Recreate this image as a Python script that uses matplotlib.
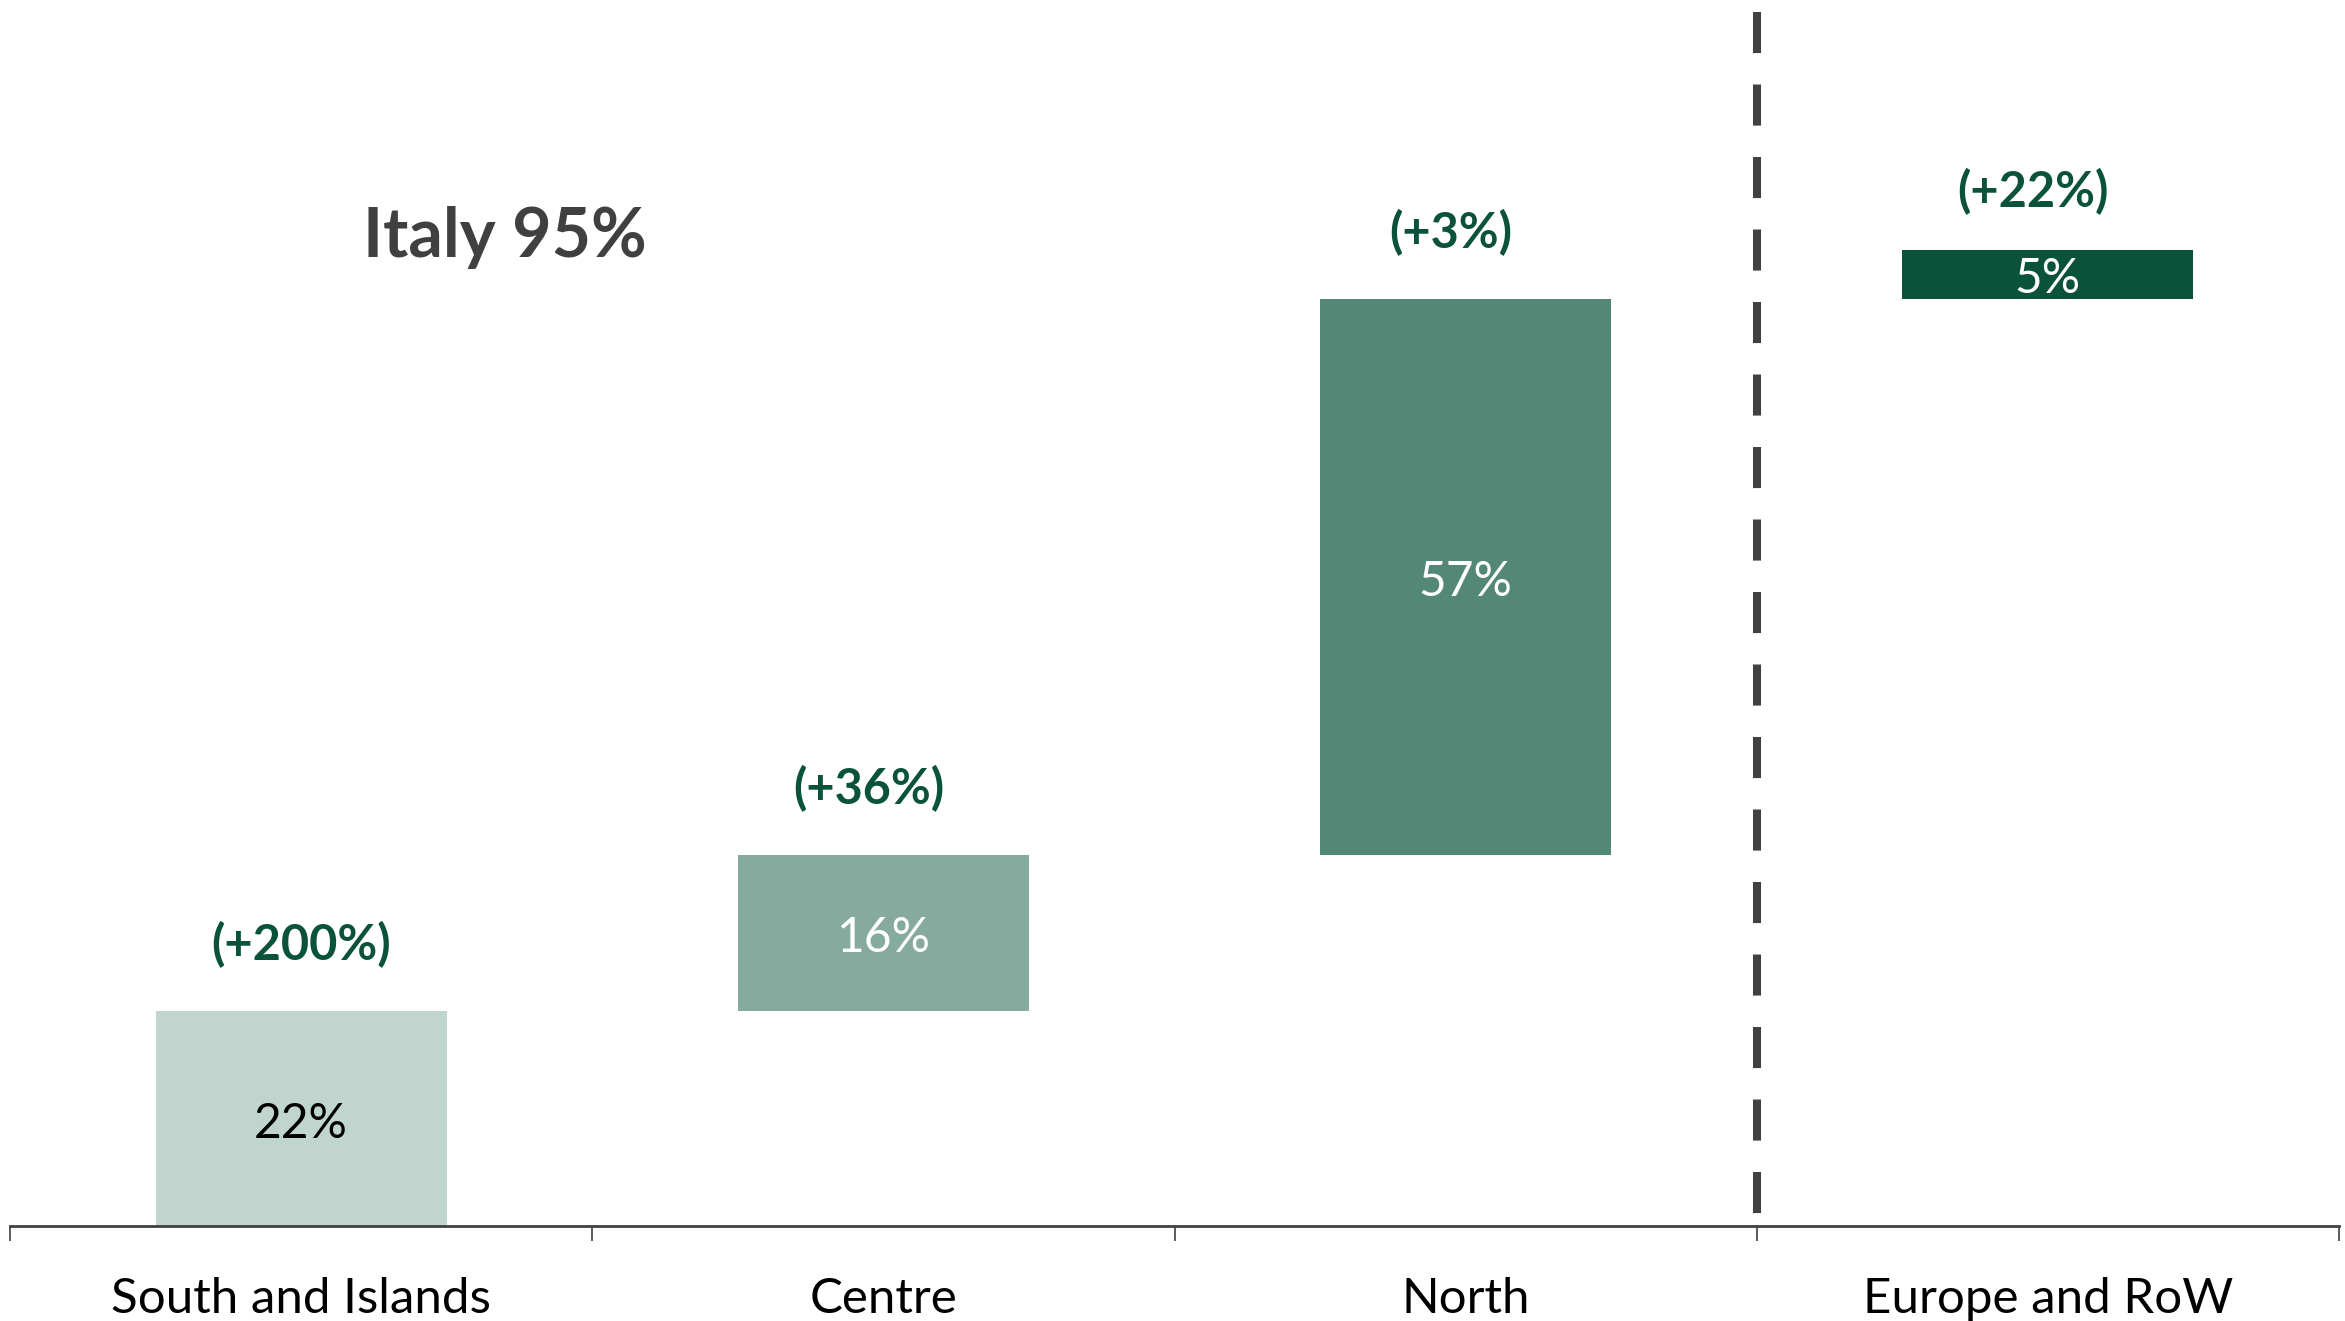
import matplotlib
matplotlib.use("Agg")
import matplotlib.pyplot as plt

categories = ["South and Islands", "Centre", "North", "Europe and RoW"]
shares = [22, 16, 57, 5]
growth_labels = ["(+200%)", "(+36%)", "(+3%)", "(+22%)"]
total_label = "Italy 95%"

bar_colors = ["#C1D5CF", "#87AA9E", "#538776", "#0B523B"]
inner_text_colors = ["#000000", "#FFFFFF", "#FFFFFF", "#FFFFFF"]
green = "#0B523B"
dark = "#404040"

plt.rcParams['font.family'] = ['Lato', 'DejaVu Sans']

fig = plt.figure(figsize=(23.45, 13.21), dpi=100)
ax = fig.add_axes([10/2345, 95/1321, (2339-10)/2345, (1226-12)/1321])

bottoms = []
acc = 0
for v in shares:
    bottoms.append(acc)
    acc += v

x = list(range(len(categories)))
ax.bar(x, shares, bottom=bottoms, width=0.5, color=bar_colors, zorder=2)

for i, (v, b) in enumerate(zip(shares, bottoms)):
    ax.text(i, b + v / 2 - 0.5, f"{v}%", ha="center", va="center",
            fontsize=34.5, color=inner_text_colors[i])
    dx = 0 if i == 0 else -0.025
    dy = 6.0 if i == 3 else 6.8
    ax.text(i + dx, b + v + dy, growth_labels[i], ha="center", va="center",
            fontsize=35, fontweight="bold", color=green)

ax.text(0.35, 101.3, total_label, ha="center", va="center",
        fontsize=49, fontweight="bold", color=dark)

ax.set_xlim(-0.5, 3.5)
ax.set_ylim(0, 124.4)

# dashed separator between Italy and Europe
ax.plot([2.5, 2.5], [124.4, 0], color=dark, lw=5.8,
        linestyle=(0, (5.1, 3.9)), zorder=3, clip_on=False)

for s in ["top", "right", "left"]:
    ax.spines[s].set_visible(False)
ax.spines["bottom"].set_color(dark)
ax.spines["bottom"].set_linewidth(2)
ax.set_yticks([])

ax.set_xticks([-0.5, 0.5, 1.5, 2.5, 3.5])
ax.set_xticklabels([])
ax.tick_params(axis="x", which="major", length=11, width=1.2, color=dark, direction="out")
ax.set_xticks(x, minor=True)
ax.set_xticklabels(categories, minor=True, fontsize=35.5, color="black")
ax.tick_params(axis="x", which="minor", length=0, pad=37)

fig.savefig("out.png", dpi=100)
